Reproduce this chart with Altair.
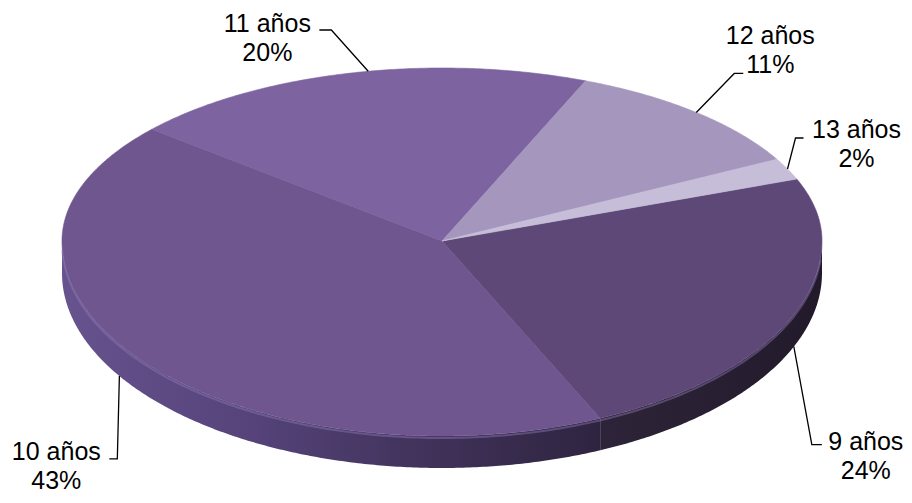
import altair as alt
import pandas as pd
import numpy as np

# ---- data ----
categories = ["9 años", "10 años", "11 años", "12 años", "13 años"]
percent = [24, 43, 20, 11, 2]
top_colors = ["#5E4878", "#6F568E", "#7D63A0", "#A596BE", "#C6BDD8"]

# ---- layout (page pixel coordinates used as scale units) ----
START = 69.0          # first slice start angle, degrees clockwise from 12 o'clock
CX, CY = 442, 241     # pie centre
A, BT, BB = 380, 173, 195   # ellipse semi-axes (horizontal, back, front)
DEPTH = 32
W, H = 896, 487
LINE_H = 29

# leader anchor angle tweak, label-block offsets from the anchor,
# and leader elbows relative to the label-block centre
anchor_dang = [0.0, 5.3, 2.6, 0.0, 0.0]
anchor_depth = [1.0, 1.0, 0.0, 0.0, 0.0]
label_off = [(72, 110), (-83, 76), (-84, -34), (74, -62), (69, -24)]
elbow_rel = [(-54, -12), (61, -8), (64, -9), (-36, 23), (-61, -7)]
end_rel = [(-44, -12), (53, -8), (52, -9), (-27, 23), (-53, -7)]


def pt(theta_deg, z=0.0):
    t = np.radians(theta_deg)
    c = np.cos(t)
    b = BT if c > 0 else BB
    return CX + A * np.sin(t), CY - b * c + z


starts, ends = [], []
acc = START
for p in percent:
    starts.append(acc)
    acc += 3.6 * p
    ends.append(acc)

# top faces
rows = []
for i, cat in enumerate(categories):
    s, e = starts[i], ends[i]
    n = max(4, int((e - s) / 0.5))
    k = 0
    rows.append(dict(cat=cat, idx=k, x=CX, y=CY)); k += 1
    for th in np.linspace(s, e, n + 1):
        x, y = pt(th)
        rows.append(dict(cat=cat, idx=k, x=x, y=y)); k += 1
    rows.append(dict(cat=cat, idx=k, x=CX, y=CY))
top_df = pd.DataFrame(rows)

# visible side walls (front half, 90..270 deg)
side_dfs = {}
for i, cat in enumerate(categories):
    lo, hi = max(starts[i], 90), min(ends[i], 270)
    if hi <= lo:
        continue
    pts = []
    ths = np.linspace(lo, hi, int((hi - lo) / 0.5) + 2)
    for th in ths:
        pts.append(pt(th, 0))
    for th in ths[::-1]:
        pts.append(pt(th, DEPTH))
    side_dfs[cat] = pd.DataFrame({"idx": range(len(pts)),
                                  "x": [q[0] for q in pts],
                                  "y": [q[1] for q in pts]})

side_fill = {
    "9 años": alt.Gradient(gradient="linear", x1=0, x2=1, y1=0, y2=0,
                           stops=[alt.GradientStop(color="#2E2439", offset=0),
                                  alt.GradientStop(color="#221A2B", offset=1)]),
    "10 años": alt.Gradient(gradient="linear", x1=0, x2=1, y1=0, y2=0,
                            stops=[alt.GradientStop(color="#67538E", offset=0),
                                   alt.GradientStop(color="#55437A", offset=0.35),
                                   alt.GradientStop(color="#3F3158", offset=0.7),
                                   alt.GradientStop(color="#2F2440", offset=1)]),
}

# rim highlight
rim_pts = [pt(th, 2) for th in np.linspace(95, 268, 200)]
rim_df = pd.DataFrame({"idx": range(len(rim_pts)),
                       "x": [q[0] for q in rim_pts], "y": [q[1] for q in rim_pts]})

# labels and leaders
lab_rows, lead_rows = [], []
for i, cat in enumerate(categories):
    mid = (starts[i] + ends[i]) / 2
    ax, ay = pt(mid + anchor_dang[i], DEPTH * anchor_depth[i])
    mx, my = pt(mid, DEPTH * anchor_depth[i])
    tx, ty = mx + label_off[i][0], my + label_off[i][1]
    # first line centred half a line above the block centre
    lab_rows.append(dict(cat=cat, x=tx, y=ty - LINE_H / 2, text=f"{cat}\n{percent[i]}%"))
    lead_rows.append(dict(cat=cat, idx=0, x=ax, y=ay))
    lead_rows.append(dict(cat=cat, idx=1, x=tx + elbow_rel[i][0], y=ty + elbow_rel[i][1]))
    lead_rows.append(dict(cat=cat, idx=2, x=tx + end_rel[i][0], y=ty + end_rel[i][1]))
lab_df = pd.DataFrame(lab_rows)
lead_df = pd.DataFrame(lead_rows)

xs = alt.Scale(domain=[8, 8 + W], nice=False, zero=False)
ys = alt.Scale(domain=[8 + H, 8], nice=False, zero=False)
X = alt.X("x:Q", scale=xs, axis=None)
Y = alt.Y("y:Q", scale=ys, axis=None)

layers = []
for cat in ["10 años", "9 años"]:
    layers.append(
        alt.Chart(side_dfs[cat]).mark_line(fill=side_fill[cat], strokeWidth=0, strokeOpacity=0)
        .encode(x=X, y=Y, order=alt.Order("idx:Q"))
    )

layers.append(
    alt.Chart(top_df).mark_line(strokeWidth=0.6)
    .encode(x=X, y=Y, order=alt.Order("idx:Q"),
            fill=alt.Fill("cat:N", scale=alt.Scale(domain=categories, range=top_colors), legend=None),
            stroke=alt.Stroke("cat:N", scale=alt.Scale(domain=categories, range=top_colors), legend=None),
            detail="cat:N")
)
layers.append(
    alt.Chart(rim_df).mark_line(stroke="#8F79B6", strokeWidth=2, strokeOpacity=0.45)
    .encode(x=X, y=Y, order=alt.Order("idx:Q"))
)
layers.append(
    alt.Chart(lead_df).mark_line(stroke="black", strokeWidth=1.3)
    .encode(x=X, y=Y, order=alt.Order("idx:Q"), detail="cat:N")
)
layers.append(
    alt.Chart(lab_df).mark_text(font="Liberation Sans", fontSize=25, lineHeight=LINE_H,
                                lineBreak="\n", align="center", baseline="middle", color="black")
    .encode(x=X, y=Y, text="text:N")
)

chart = alt.layer(*layers).properties(
    width=W, height=H, padding=0,
    autosize=alt.AutoSizeParams(type="none"),
).configure_view(stroke=None)

chart.save("out.html", embed_options={"renderer": "svg", "actions": False})
